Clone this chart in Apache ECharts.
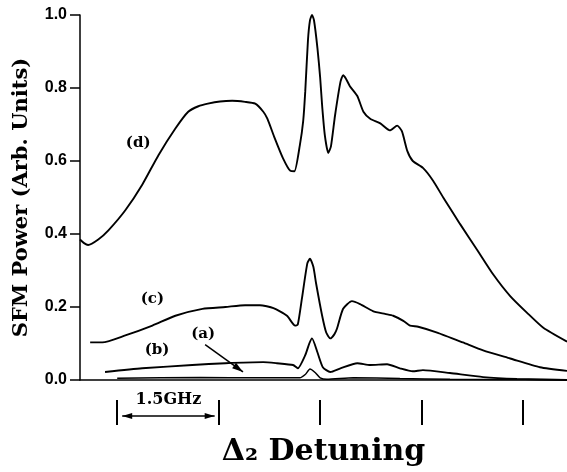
<!DOCTYPE html>
<html>
<head>
<meta charset="utf-8">
<script src="https://cdn.jsdelivr.net/npm/echarts@6/dist/echarts.min.js"></script>
<style>
  html, body { margin: 0; padding: 0; background: #fff; }
  #chart { width: 567px; height: 472px; }
</style>
</head>
<body>
<div id="chart"></div>
<script>
  // detuning in GHz (0 = first marker), SFM power in arb. units
  var detuningD = [-0.55, -0.49, -0.43, -0.28, -0.13, 0.12, 0.37, 0.61, 0.86, 1.05, 1.20, 1.34, 1.52, 1.70, 1.89, 2.04, 2.16,
    2.22, 2.33, 2.45, 2.56, 2.62, 2.70, 2.75, 2.78, 2.82, 2.85, 2.88, 2.91, 2.96, 3.00, 3.03, 3.07, 3.12, 3.16, 3.22, 3.30,
    3.34, 3.38, 3.44, 3.55, 3.64, 3.74, 3.89, 4.03, 4.14, 4.21, 4.29, 4.37, 4.52, 4.67, 4.82, 5.07, 5.32, 5.56, 5.81,
    6.06, 6.30, 6.65]
  var powerD = [0.385, 0.375, 0.370, 0.385, 0.410, 0.465, 0.535, 0.616, 0.689, 0.735, 0.750, 0.757, 0.763, 0.765, 0.762, 0.757, 0.735,
    0.716, 0.662, 0.608, 0.573, 0.572, 0.643, 0.710, 0.790, 0.930, 0.985, 1.000, 0.985, 0.910, 0.830, 0.751, 0.670, 0.622, 0.640, 0.724, 0.816,
    0.835, 0.826, 0.805, 0.778, 0.735, 0.716, 0.703, 0.684, 0.697, 0.681, 0.627, 0.600, 0.581, 0.546, 0.500, 0.427, 0.357, 0.289, 0.230,
    0.184, 0.143, 0.105]

  var detuningC = [-0.40, -0.22, 0.12, 0.52, 0.86, 1.26, 1.60, 1.89, 2.11, 2.31, 2.51, 2.63, 2.67, 2.73, 2.81, 2.85, 2.90, 2.94,
    3.03, 3.09, 3.15, 3.21, 3.25, 3.34, 3.47, 3.59, 3.78, 3.96, 4.08, 4.23, 4.33, 4.45, 4.73, 5.11, 5.41, 5.81, 6.25, 6.65]
  var powerC = [0.103, 0.103, 0.122, 0.149, 0.176, 0.195, 0.200, 0.205, 0.205, 0.197, 0.176, 0.149, 0.152, 0.222, 0.319, 0.332, 0.310, 0.265,
    0.176, 0.130, 0.114, 0.125, 0.141, 0.195, 0.216, 0.208, 0.189, 0.181, 0.176, 0.162, 0.149, 0.146, 0.130, 0.103, 0.081, 0.059, 0.035, 0.025]

  var detuningB = [-0.18, 0.37, 1.11, 1.60, 2.16, 2.36, 2.60, 2.67, 2.78, 2.84, 2.88, 2.96, 3.04, 3.15, 3.30, 3.55, 3.74, 3.99,
    4.18, 4.37, 4.52, 4.92, 5.41, 5.91, 6.65]
  var powerB = [0.022, 0.032, 0.041, 0.046, 0.049, 0.046, 0.041, 0.032, 0.068, 0.100, 0.114, 0.076, 0.035, 0.022, 0.032, 0.046, 0.041, 0.043,
    0.032, 0.024, 0.027, 0.019, 0.008, 0.003, 0.000]

  var detuningA = [0.00, 1.23, 2.11, 2.70, 2.78, 2.85, 2.93, 3.00, 3.10, 3.49, 4.18, 4.92, 6.65]
  var powerA = [0.005, 0.007, 0.006, 0.006, 0.015, 0.030, 0.020, 0.006, 0.002, 0.006, 0.004, 0.002, 0.001]

  var markerDetuning = [0, 1.5, 3, 4.5, 6]

  function zip (xs, ys) {
    return xs.map(function (x, i) { return [x, ys[i]] })
  }

  var chart = echarts.init(document.getElementById('chart'))
  var lineStyle = { color: '#000', width: 1.9 }
  var serif = 'DejaVu Serif'

  chart.setOption({
    animation: false,
    backgroundColor: '#fff',
    grid: { left: 80, right: 0, top: 15, bottom: 87 },
    xAxis: [
      {
        type: 'value',
        min: -0.55,
        max: 6.65,
        axisLine: { show: true, lineStyle: { color: '#000', width: 1.5 } },
        axisTick: { show: false },
        axisLabel: { show: false },
        splitLine: { show: false },
        name: 'Δ₂ Detuning',
        nameLocation: 'middle',
        nameGap: 57,
        nameTextStyle: { fontFamily: serif, fontWeight: 'bold', fontSize: 30, color: '#000' }
      },
      {
        type: 'value',
        position: 'bottom',
        offset: 20,
        min: -0.55,
        max: 6.65,
        axisLine: { show: false },
        axisTick: { show: true, length: 25, customValues: markerDetuning, lineStyle: { color: '#000', width: 2 } },
        axisLabel: { show: false },
        splitLine: { show: false }
      }
    ],
    yAxis: {
      type: 'value',
      min: 0,
      max: 1,
      interval: 0.2,
      axisLine: { show: true, onZero: false, lineStyle: { color: '#000', width: 1.5 } },
      axisTick: { show: true, length: 10, lineStyle: { color: '#000', width: 1.5 } },
      axisLabel: {
        margin: 13,
        fontFamily: 'Liberation Sans',
        fontWeight: 'bold',
        fontSize: 16,
        color: '#000',
        formatter: function (v) { return v.toFixed(1) }
      },
      splitLine: { show: false },
      name: 'SFM Power (Arb. Units)',
      nameLocation: 'middle',
      nameGap: 48,
      nameTextStyle: { fontFamily: serif, fontWeight: 'bold', fontSize: 21, color: '#000' }
    },
    series: [
      { name: '(d)', type: 'line', data: zip(detuningD, powerD), showSymbol: false, smooth: 0.2, lineStyle: lineStyle },
      { name: '(c)', type: 'line', data: zip(detuningC, powerC), showSymbol: false, smooth: 0.2, lineStyle: lineStyle },
      { name: '(b)', type: 'line', data: zip(detuningB, powerB), showSymbol: false, smooth: 0.2, lineStyle: lineStyle },
      { name: '(a)', type: 'line', data: zip(detuningA, powerA), showSymbol: false, smooth: 0.2, lineStyle: { color: '#000', width: 1.5 } }
    ]
  })

  // annotations: curve labels, arrow to (a), 1.5 GHz scale bar
  function px (x, y) {
    return chart.convertToPixel({ xAxisIndex: 0, yAxisIndex: 0 }, [x, y])
  }
  function label (text, p) {
    return {
      type: 'text',
      x: p[0],
      y: p[1],
      style: { text: text, fontFamily: serif, fontWeight: 'bold', fontSize: 15, fill: '#000', align: 'center', verticalAlign: 'middle' }
    }
  }
  function arrowHead (tip, from, size) {
    var dx = tip[0] - from[0]
    var dy = tip[1] - from[1]
    var len = Math.sqrt(dx * dx + dy * dy)
    var ux = dx / len
    var uy = dy / len
    var bx = tip[0] - ux * size
    var by = tip[1] - uy * size
    var w = size * 0.3
    return {
      type: 'polygon',
      shape: { points: [tip, [bx - uy * w, by + ux * w], [bx + uy * w, by - ux * w]] },
      style: { fill: '#000' }
    }
  }

  var arrowFrom = px(1.30, 0.097)
  var arrowTo = px(1.86, 0.022)
  var zeroY = px(0, 0)[1]
  var barY = zeroY + 36
  var barL = [px(0, 0)[0] + 5, barY]
  var barR = [px(1.5, 0)[0] - 4, barY]

  chart.setOption({
    graphic: [
      label('(d)', px(0.31, 0.649)),
      label('(c)', px(0.52, 0.222)),
      label('(b)', px(0.59, 0.081)),
      label('(a)', px(1.27, 0.127)),
      { type: 'line', shape: { x1: arrowFrom[0], y1: arrowFrom[1], x2: arrowTo[0], y2: arrowTo[1] }, style: { stroke: '#000', lineWidth: 1.5 } },
      arrowHead(arrowTo, arrowFrom, 11),
      { type: 'line', shape: { x1: barL[0], y1: barY, x2: barR[0], y2: barY }, style: { stroke: '#000', lineWidth: 1.5 } },
      arrowHead(barL, barR, 10),
      arrowHead(barR, barL, 10),
      {
        type: 'text',
        x: (barL[0] + barR[0]) / 2,
        y: barY - 16,
        style: { text: '1.5GHz', fontFamily: serif, fontWeight: 'bold', fontSize: 16, fill: '#000', align: 'center', verticalAlign: 'middle' }
      }
    ]
  })
</script>
</body>
</html>
